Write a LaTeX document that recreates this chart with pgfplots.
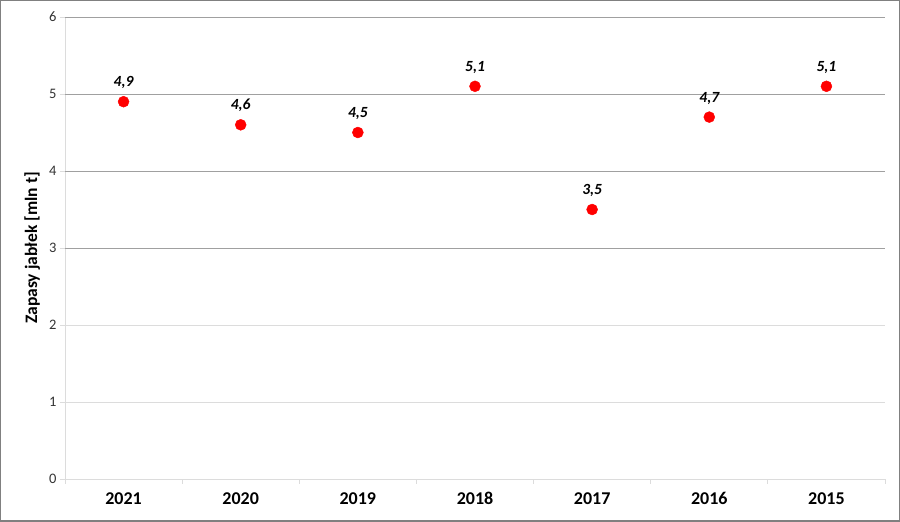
\documentclass[border=0pt]{standalone}
\usepackage{pgfplots}
\pgfplotsset{compat=1.18}
\usepackage{fontspec}
\setmainfont{Carlito}
\definecolor{gridD}{HTML}{A0A0A0}
\definecolor{gridL}{HTML}{DCDCDC}
\definecolor{ptred}{HTML}{FF0000}
\definecolor{frameC}{HTML}{808080}
\begin{document}
\begin{tikzpicture}
\begin{axis}[
  at={(0,0)}, anchor=south west,
  scale only axis, width=820pt, height=462pt,
  xmin=-0.5, xmax=6.5, ymin=0, ymax=6,
  axis x line*=bottom, axis y line*=left,
  axis line style={gridL, line width=0.8pt},
  tick align=outside, major tick length=5pt,
  xtick={-0.5,0.5,...,6.5}, xticklabels={},
  extra x ticks={0,1,2,3,4,5,6},
  extra x tick labels={2021,2020,2019,2018,2017,2016,2015},
  extra x tick style={tick style={draw=none}},
  xticklabel style={font=\bfseries\fontsize{18}{18}\selectfont, text=black, anchor=base, yshift=-21pt},
  x tick style={gridL, line width=0.8pt},
  ytick={0,1,2,3,4,5,6},
  ymajorgrids, grid style={gridL, line width=0.8pt},
  y tick style={gridL, line width=0.8pt},
  extra y ticks={3,4,5,6}, extra y tick labels={},
  extra y tick style={grid style={gridD, line width=1pt}, tick style={gridD, line width=1pt}},
  yticklabel style={font=\fontsize{14.5}{14.5}\selectfont, text=black!80},
  /pgf/number format/assume math mode=true,
  ylabel={Zapasy jabłek [mln t]},
  ylabel style={font=\bfseries\fontsize{17.5}{17.5}\selectfont, at={(axis description cs:-0.04,0.5)}, anchor=center},
  clip=false,
]
\addplot[only marks, mark=*, mark size=5.5pt, mark options={draw=ptred, fill=ptred},
  nodes near coords={\pgfmathprintnumber[fixed, fixed zerofill, precision=1, use comma, assume math mode=true]{\pgfplotspointmeta}},
  every node near coord/.append style={anchor=base, yshift=15pt, inner sep=0pt, font=\bfseries\itshape\fontsize{15.5}{15.5}\selectfont, text=black}]
  coordinates {(0,4.9) (1,4.6) (2,4.5) (3,5.1) (4,3.5) (5,4.7) (6,5.1)};
\end{axis}
\pgfresetboundingbox
\draw[frameC, line width=1.5pt] (-64.25pt,-42.25pt) rectangle (834.25pt,478.25pt);
\useasboundingbox (-65pt,-43pt) rectangle (835pt,479pt);
\end{tikzpicture}
\end{document}
